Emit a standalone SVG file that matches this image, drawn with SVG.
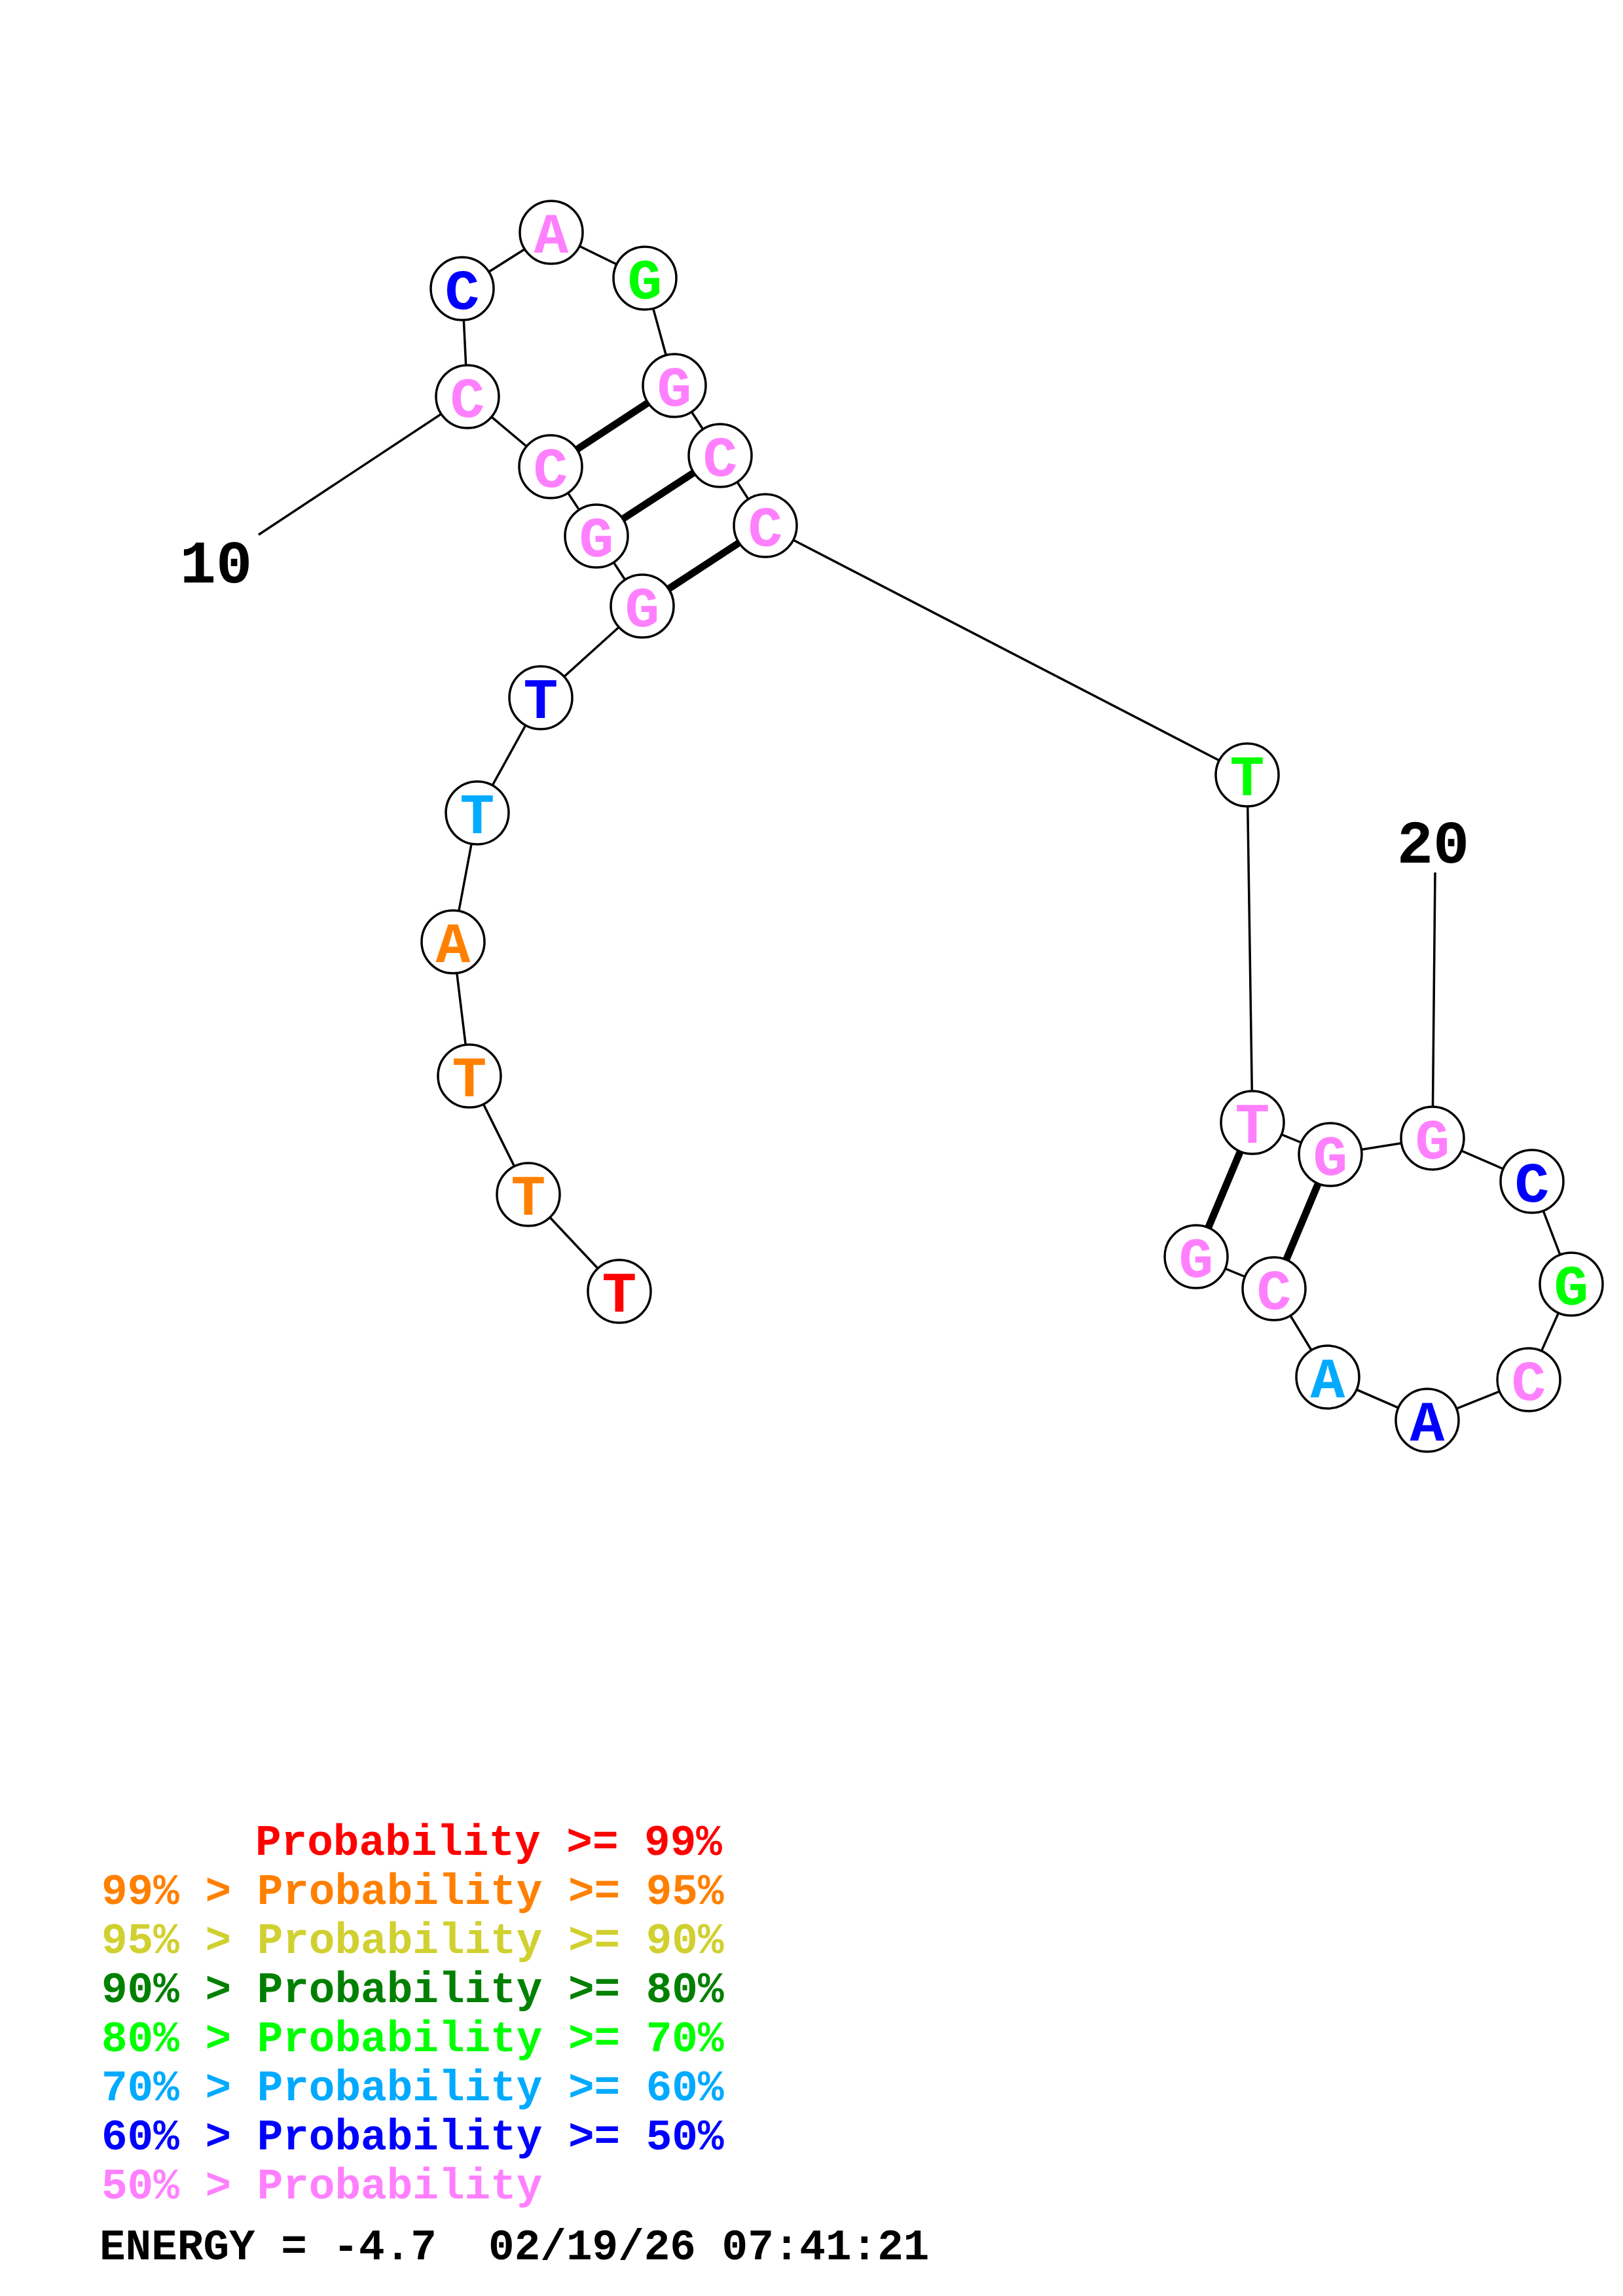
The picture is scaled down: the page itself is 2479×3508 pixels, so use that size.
<svg xmlns="http://www.w3.org/2000/svg" width="2479" height="3508" viewBox="0 0 2479 3508">
<style>
.bb{stroke:#000;stroke-width:3.5;fill:none}
.bp{stroke:#000;stroke-width:11;fill:none}
.nd circle{fill:#fff;stroke:#000;stroke-width:3.5}
.nd text{font-family:"Liberation Mono","Courier New",monospace;font-weight:bold;font-size:88px;text-anchor:middle}
.lbl{font-family:"Liberation Mono","Courier New",monospace;font-weight:bold;font-size:92px;fill:#000;text-anchor:middle}
.lg{font-family:"Liberation Mono","Courier New",monospace;font-weight:bold;font-size:66px}
.r{fill:#ff0000}.o{fill:#ff8000}.y{fill:#d0d030}.dg{fill:#008000}.g{fill:#00ff00}.lb{fill:#00aaff}.b{fill:#0000ff}.p{fill:#ff80ff}
</style>
<rect width="2479" height="3508" fill="#fff"/>
<g id="connectors">
<polyline class="bb" points="946,1973 807,1825 717,1644 692,1439 729,1242 826,1066 981,926 911,819 841,713 714,606 706,441 842,355 985,425 1030,589 1100,696 1169,803 1905,1184 1913,1715 2032,1764 2188,1739 2340,1805 2400,1962 2335,2108 2180,2170 2028,2104 1946,1969 1827,1920"/>
<line class="bb" x1="714" y1="606" x2="395" y2="817"/>
<line class="bb" x1="2188" y1="1739" x2="2192" y2="1333"/>
<line class="bp" x1="981" y1="926" x2="1169" y2="803"/>
<line class="bp" x1="911" y1="819" x2="1100" y2="696"/>
<line class="bp" x1="841" y1="713" x2="1030" y2="589"/>
<line class="bp" x1="1913" y1="1715" x2="1827" y2="1920"/>
<line class="bp" x1="2032" y1="1764" x2="1946" y2="1969"/>
</g>
<g id="n1" class="nd"><circle cx="946" cy="1973" r="48"/><text x="946" y="2004" class="r">T</text></g>
<g id="n2" class="nd"><circle cx="807" cy="1825" r="48"/><text x="807" y="1856" class="o">T</text></g>
<g id="n3" class="nd"><circle cx="717" cy="1644" r="48"/><text x="717" y="1675" class="o">T</text></g>
<g id="n4" class="nd"><circle cx="692" cy="1439" r="48"/><text x="692" y="1470" class="o">A</text></g>
<g id="n5" class="nd"><circle cx="729" cy="1242" r="48"/><text x="729" y="1273" class="lb">T</text></g>
<g id="n6" class="nd"><circle cx="826" cy="1066" r="48"/><text x="826" y="1097" class="b">T</text></g>
<g id="n7" class="nd"><circle cx="981" cy="926" r="48"/><text x="981" y="957" class="p">G</text></g>
<g id="n8" class="nd"><circle cx="911" cy="819" r="48"/><text x="911" y="850" class="p">G</text></g>
<g id="n9" class="nd"><circle cx="841" cy="713" r="48"/><text x="841" y="744" class="p">C</text></g>
<g id="n10" class="nd"><circle cx="714" cy="606" r="48"/><text x="714" y="637" class="p">C</text></g>
<g id="n11" class="nd"><circle cx="706" cy="441" r="48"/><text x="706" y="472" class="b">C</text></g>
<g id="n12" class="nd"><circle cx="842" cy="355" r="48"/><text x="842" y="386" class="p">A</text></g>
<g id="n13" class="nd"><circle cx="985" cy="425" r="48"/><text x="985" y="456" class="g">G</text></g>
<g id="n14" class="nd"><circle cx="1030" cy="589" r="48"/><text x="1030" y="620" class="p">G</text></g>
<g id="n15" class="nd"><circle cx="1100" cy="696" r="48"/><text x="1100" y="727" class="p">C</text></g>
<g id="n16" class="nd"><circle cx="1169" cy="803" r="48"/><text x="1169" y="834" class="p">C</text></g>
<g id="n17" class="nd"><circle cx="1905" cy="1184" r="48"/><text x="1905" y="1215" class="g">T</text></g>
<g id="n18" class="nd"><circle cx="1913" cy="1715" r="48"/><text x="1913" y="1746" class="p">T</text></g>
<g id="n19" class="nd"><circle cx="2032" cy="1764" r="48"/><text x="2032" y="1795" class="p">G</text></g>
<g id="n20" class="nd"><circle cx="2188" cy="1739" r="48"/><text x="2188" y="1770" class="p">G</text></g>
<g id="n21" class="nd"><circle cx="2340" cy="1805" r="48"/><text x="2340" y="1836" class="b">C</text></g>
<g id="n22" class="nd"><circle cx="2400" cy="1962" r="48"/><text x="2400" y="1993" class="g">G</text></g>
<g id="n23" class="nd"><circle cx="2335" cy="2108" r="48"/><text x="2335" y="2139" class="p">C</text></g>
<g id="n24" class="nd"><circle cx="2180" cy="2170" r="48"/><text x="2180" y="2201" class="b">A</text></g>
<g id="n25" class="nd"><circle cx="2028" cy="2104" r="48"/><text x="2028" y="2135" class="lb">A</text></g>
<g id="n26" class="nd"><circle cx="1946" cy="1969" r="48"/><text x="1946" y="2000" class="p">C</text></g>
<g id="n27" class="nd"><circle cx="1827" cy="1920" r="48"/><text x="1827" y="1951" class="p">G</text></g>
<g id="labels">
<text class="lbl" x="330" y="890">10</text>
<text class="lbl" x="2189" y="1318">20</text>
</g>
<g id="legend" class="lg">
<text x="390" y="2834" class="r">Probability &gt;= 99%</text>
<text x="155" y="2909" class="o">99% &gt; Probability &gt;= 95%</text>
<text x="155" y="2984" class="y">95% &gt; Probability &gt;= 90%</text>
<text x="155" y="3059" class="dg">90% &gt; Probability &gt;= 80%</text>
<text x="155" y="3134" class="g">80% &gt; Probability &gt;= 70%</text>
<text x="155" y="3209" class="lb">70% &gt; Probability &gt;= 60%</text>
<text x="155" y="3284" class="b">60% &gt; Probability &gt;= 50%</text>
<text x="155" y="3359" class="p">50% &gt; Probability</text>
<text x="152" y="3452" fill="#000" xml:space="preserve">ENERGY = -4.7  02/19/26 07:41:21</text>
</g>
</svg>
